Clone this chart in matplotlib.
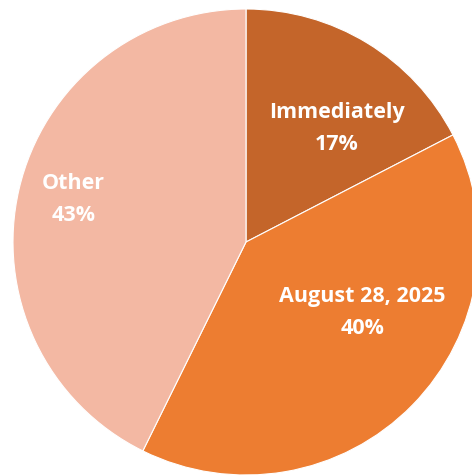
import matplotlib
matplotlib.use("Agg")
import matplotlib.pyplot as plt

# Share of responses by timing
categories = ["Immediately", "August 28, 2025", "Other"]
shares = [17.4, 39.9, 42.7]
colors = ["#C4652A", "#ED7D31", "#F3B8A3"]
# label anchor points in pie-radius units
label_xy = [(0.39, 0.487), (0.50, -0.303), (-0.74, 0.183)]

W, H, DPI = 472, 476, 100
fig = plt.figure(figsize=(W / DPI, H / DPI), dpi=DPI)
R = 233
cx, cy = 246, H - 242
ax = fig.add_axes([(cx - R) / W, (cy - R) / H, 2 * R / W, 2 * R / H])

ax.pie(shares, colors=colors, startangle=90, counterclock=False,
       radius=1.0, wedgeprops=dict(edgecolor="white", linewidth=0.8))
ax.set_xlim(-1, 1)
ax.set_ylim(-1, 1)
ax.axis("off")

for name, val, (x, y) in zip(categories, shares, label_xy):
    ax.text(x, y, f"{name}\n{round(val):d}%", ha="center", va="center",
            color="white", fontsize=15.5, fontweight="bold",
            family=["Open Sans", "DejaVu Sans"], linespacing=1.65)

fig.savefig("out.png", dpi=DPI)
